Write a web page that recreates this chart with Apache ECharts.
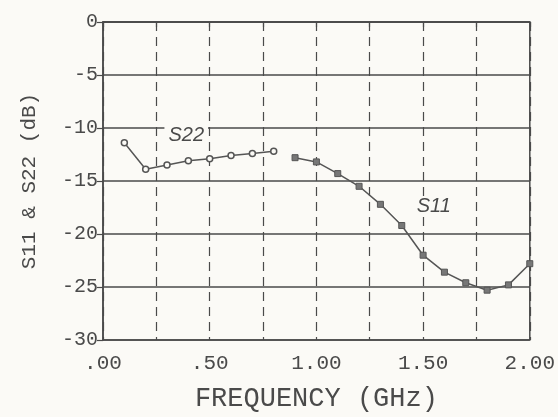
<!DOCTYPE html>
<html>
<head>
<meta charset="utf-8">
<script src="https://cdn.jsdelivr.net/npm/echarts@6/dist/echarts.min.js"></script>
<style>
html,body{margin:0;padding:0;background:#fbfaf6;}
#chart{width:558px;height:417px;}
</style>
</head>
<body>
<div id="chart"></div>
<script>
// Data
const freqS22 = [0.1, 0.2, 0.3, 0.4, 0.5, 0.6, 0.7, 0.8];
const s22 = [-11.4, -13.9, -13.5, -13.1, -12.9, -12.6, -12.4, -12.2];
const freqS11 = [0.9, 1.0, 1.1, 1.2, 1.3, 1.4, 1.5, 1.6, 1.7, 1.8, 1.9, 2.0];
const s11 = [-12.8, -13.2, -14.3, -15.5, -17.2, -19.2, -22.0, -23.6, -24.6, -25.3, -24.8, -22.8];
const xTickValues = [0, 0.5, 1.0, 1.5, 2.0];
const xTickLabels = ['.00', '.50', '1.00', '1.50', '2.00'];
const yTickValues = [0, -5, -10, -15, -20, -25, -30];
const yTickLabels = ['0', '-5', '-10', '-15', '-20', '-25', '-30'];
const seriesNames = ['S22', 'S11'];
const seriesLabelAt = [[0.39, -10.7], [1.55, -17.4]];
const xTitle = 'FREQUENCY (GHz)';
const yTitle = 'S11 & S22 (dB)';

const ink = '#4a4a4a';
const bg = '#fbfaf6';
const mono = '"Liberation Mono", "DejaVu Sans Mono", monospace';

function pairs(xs, ys) { return xs.map((x, i) => [x, ys[i]]); }
function nameMark(i) {
  return {
    symbol: 'circle', symbolSize: 1,
    itemStyle: { color: 'rgba(0,0,0,0)', borderWidth: 0 },
    data: [{ coord: seriesLabelAt[i], name: seriesNames[i] }],
    label: { show: true, position: 'inside', fontStyle: 'italic', fontFamily: '"Liberation Sans", sans-serif', fontSize: 20, color: ink,
             backgroundColor: bg, padding: [0, 4], formatter: () => seriesNames[i] }
  };
}

const chart = echarts.init(document.getElementById('chart'));
chart.setOption({
  backgroundColor: bg,
  animation: false,
  grid: { left: 103, right: 28, top: 22, bottom: 74, show: true, borderColor: ink, borderWidth: 1.5, backgroundColor: 'transparent' },
  xAxis: {
    type: 'value', min: 0, max: 2, interval: 0.25,
    name: xTitle, nameLocation: 'middle', nameGap: 45,
    nameTextStyle: { fontFamily: mono, fontSize: 27, color: ink },
    axisLine: { show: true, lineStyle: { color: ink, width: 1.5 } },
    axisTick: { show: true, length: 5, lineStyle: { color: ink, width: 1.2 } },
    axisLabel: {
      fontFamily: mono, fontSize: 21, color: ink, margin: 13,
      formatter: v => { const i = xTickValues.findIndex(t => Math.abs(t - v) < 1e-6); return i >= 0 ? xTickLabels[i] : ''; }
    },
    splitLine: { show: true, lineStyle: { color: ink, width: 1.2, type: [9, 6] } }
  },
  yAxis: {
    type: 'value', min: -30, max: 0, interval: 5,
    name: yTitle, nameLocation: 'middle', nameGap: 63, nameRotate: 90,
    nameTextStyle: { fontFamily: mono, fontSize: 21, color: ink },
    axisLine: { show: true, lineStyle: { color: ink, width: 1.5 } },
    axisTick: { show: true, length: 6, lineStyle: { color: ink, width: 1.2 } },
    axisLabel: {
      fontFamily: mono, fontSize: 20, color: ink, margin: 5,
      formatter: v => { const i = yTickValues.findIndex(t => Math.abs(t - v) < 1e-6); return i >= 0 ? yTickLabels[i] : ''; }
    },
    splitLine: { show: true, lineStyle: { color: ink, width: 1.5 } }
  },
  series: [
    {
      name: seriesNames[0], type: 'line', data: pairs(freqS22, s22),
      symbol: 'circle', symbolSize: 6, showAllSymbol: true,
      itemStyle: { color: bg, borderColor: '#555', borderWidth: 1.5 },
      lineStyle: { color: '#555', width: 1.5 },
      markPoint: nameMark(0)
    },
    {
      name: seriesNames[1], type: 'line', data: pairs(freqS11, s11),
      symbol: 'rect', symbolSize: 6, showAllSymbol: true,
      itemStyle: { color: '#777', borderColor: '#555', borderWidth: 1 },
      lineStyle: { color: '#555', width: 1.5 },
      markPoint: nameMark(1)
    }
  ]
});
</script>
</body>
</html>
